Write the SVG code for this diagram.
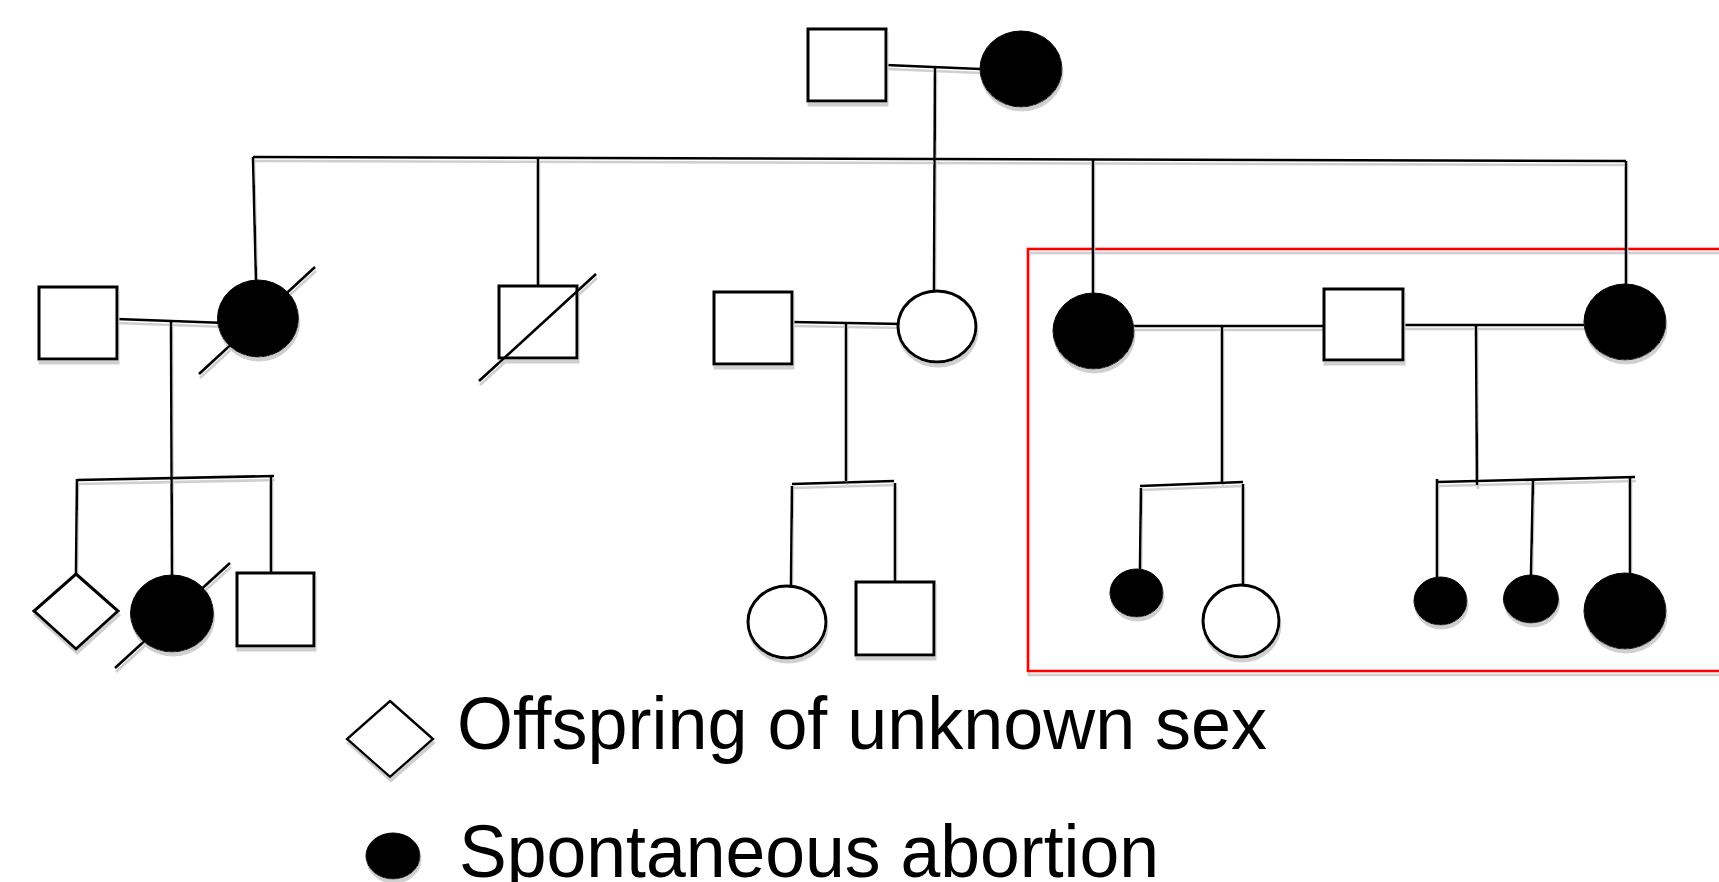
<svg xmlns="http://www.w3.org/2000/svg" width="1719" height="882" viewBox="0 0 1719 882">
<style>
.ln{stroke:#000;stroke-width:2.6;fill:none;stroke-linecap:butt}
.sq{fill:#fff;stroke:#000;stroke-width:3}
.op{fill:#fff;stroke:#000;stroke-width:3}
.fl{fill:#000;stroke:#000;stroke-width:1}
.sl{stroke:#000;stroke-width:2.6;fill:none}
.txt{font-family:"Liberation Sans",Arial,sans-serif;font-size:75px;fill:#000}
</style>
<defs>
<filter id="sh" filterUnits="userSpaceOnUse" x="0" y="0" width="1719" height="882">
<feOffset in="SourceAlpha" dx="1" dy="4" result="o"/>
<feFlood flood-color="#cfcfcf"/>
<feComposite in2="o" operator="in" result="s"/>
<feMerge><feMergeNode in="s"/><feMergeNode in="SourceGraphic"/></feMerge>
</filter>
</defs>
<rect width="1719" height="882" fill="#fff"/>
<g id="highlight" filter="url(#sh)">
<rect x="1028" y="249" width="720" height="422" fill="none" stroke="#ff0000" stroke-width="2.6"/>
</g>
<g id="connectors" class="ln" filter="url(#sh)">
<path class="ln" d="M886 65L980 69"/>
<path class="ln" d="M935 67L934 291"/>
<path class="ln" d="M253 157L1626 161"/>
<path class="ln" d="M253 157L256 280"/>
<path class="ln" d="M538 158L538 286"/>
<path class="ln" d="M1093 159L1093 293"/>
<path class="ln" d="M1626 161L1626 284"/>
<path class="ln" d="M117 319L226 323"/>
<path class="ln" d="M171 322L172 575"/>
<path class="ln" d="M77 480L274 476"/>
<path class="ln" d="M77 479L76 574"/>
<path class="ln" d="M271 476L271 573"/>
<path class="ln" d="M792 322L903 324"/>
<path class="ln" d="M846 323L846 481"/>
<path class="ln" d="M792 484L894 481"/>
<path class="ln" d="M792 486L791 586"/>
<path class="ln" d="M895 483L895 582"/>
<path class="ln" d="M1134 326L1324 326"/>
<path class="ln" d="M1403 325L1585 325"/>
<path class="ln" d="M1222 326L1222 482"/>
<path class="ln" d="M1140 486L1243 482"/>
<path class="ln" d="M1141 488L1140 569"/>
<path class="ln" d="M1243 484L1243 585"/>
<path class="ln" d="M1476 325L1477 485"/>
<path class="ln" d="M1437 482L1635 477"/>
<path class="ln" d="M1437 479L1437 577"/>
<path class="ln" d="M1533 480L1531 575"/>
<path class="ln" d="M1630 477L1630 573"/>
</g>
<g filter="url(#sh)">
<g id="I1"><rect class="sq" x="808" y="29" width="78" height="72"/></g>
<g id="I2"><ellipse class="fl" cx="1021" cy="69" rx="41" ry="38"/></g>
<g id="II1"><rect class="sq" x="39" y="287" width="78" height="72"/></g>
<g id="II2"><ellipse class="fl" cx="258" cy="318.5" rx="40.5" ry="38.5"/><path class="sl" d="M199 374L315 267"/></g>
<g id="II3"><rect class="sq" x="499" y="286" width="78" height="72"/><path class="sl" d="M479 381L596 274"/></g>
<g id="II4"><rect class="sq" x="714" y="292" width="78" height="72"/></g>
<g id="II5"><ellipse class="op" cx="937" cy="326.5" rx="39" ry="35.5"/></g>
<g id="II6"><ellipse class="fl" cx="1093.5" cy="331" rx="40.5" ry="38"/></g>
<g id="II7"><rect class="sq" x="1324" y="289" width="79" height="71"/></g>
<g id="II8"><ellipse class="fl" cx="1625" cy="322" rx="41" ry="38"/></g>
<g id="III1"><path class="sq" d="M76 574L118 611L76 649L34 611Z"/></g>
<g id="III2"><ellipse class="fl" cx="172" cy="613.5" rx="41.5" ry="38.5"/><path class="sl" d="M115 668L230 563"/></g>
<g id="III3"><rect class="sq" x="237" y="573" width="77" height="73"/></g>
<g id="III4"><ellipse class="op" cx="787" cy="622" rx="39" ry="36"/></g>
<g id="III5"><rect class="sq" x="856" y="582" width="78" height="73"/></g>
<g id="III6"><ellipse class="fl" cx="1136.5" cy="593" rx="26.5" ry="24"/></g>
<g id="III7"><ellipse class="op" cx="1241" cy="621" rx="38" ry="36"/></g>
<g id="III8"><ellipse class="fl" cx="1440.5" cy="601" rx="26.5" ry="24"/></g>
<g id="III9"><ellipse class="fl" cx="1531" cy="599" rx="27.5" ry="24"/></g>
<g id="III10"><ellipse class="fl" cx="1625" cy="611" rx="41" ry="38"/></g>
<g id="legend-diamond"><path class="sq" style="stroke-width:2.4" d="M390 701L433 739L390 777L347 739Z"/></g>
<g id="legend-circle"><ellipse class="fl" cx="393" cy="856" rx="27" ry="23"/></g>
</g>
<g id="legend-text">
<text class="txt" x="457" y="749" textLength="810" lengthAdjust="spacingAndGlyphs">Offspring of unknown sex</text>
<text class="txt" x="459" y="877" textLength="700" lengthAdjust="spacingAndGlyphs">Spontaneous abortion</text>
</g>
</svg>
